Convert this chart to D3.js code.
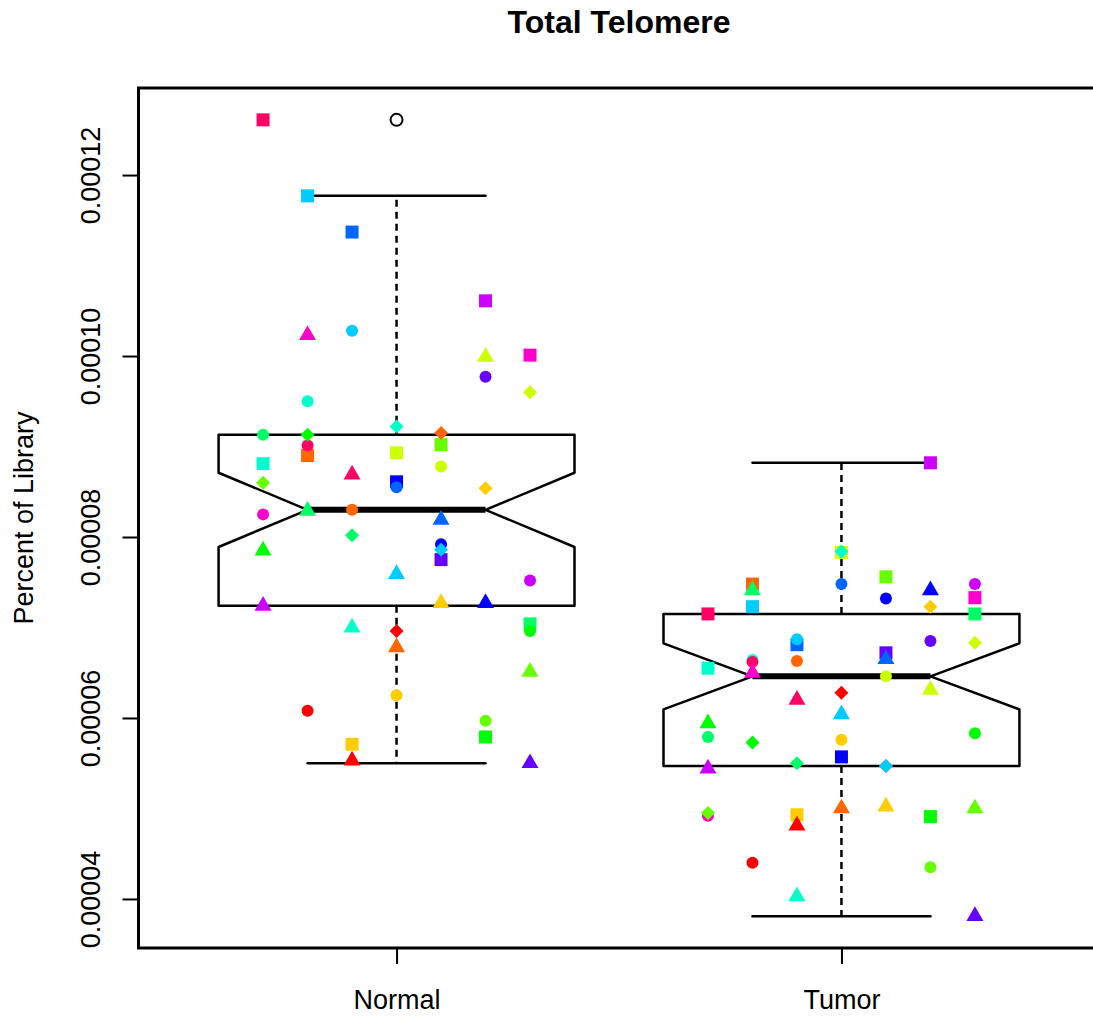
<!DOCTYPE html>
<html>
<head>
<meta charset="utf-8">
<script src="https://cdn.jsdelivr.net/npm/d3@7"></script>
<style>
  body { margin: 0; background: #fff; }
  svg { display: block; }
  text { font-family: "Liberation Sans", Arial, Helvetica, sans-serif; fill: #000; }
</style>
</head>
<body>
<svg id="chart" width="1093" height="1016"></svg>
<script>
// Group names on the x axis
const groups = ["Normal", "Tumor"];

// Percent of library per sample (sample 1..53), paired normal / tumor
const normalValues = [
  8.90e-5, 5.71e-5, 8.93e-5, 9.02e-5, 5.79e-5, 7.04e-5, 8.81e-5, 11.77e-5, 11.37e-5, 8.61e-5,
  7.75e-5, 10.61e-5, 10.01e-5, 12.61e-5, 6.08e-5, 8.30e-5, 6.25e-5, 8.78e-5, 5.97e-5, 6.96e-5,
  9.13e-5, 9.50e-5, 10.28e-5, 8.55e-5, 7.92e-5, 9.77e-5, 7.52e-5, 8.25e-5, 9.01e-5, 5.53e-5,
  6.78e-5, 7.27e-5, 9.99e-5, 6.51e-5, 7.85e-5, 8.29e-5, 7.00e-5, 7.59e-5, 8.19e-5, 7.27e-5,
  5.50e-5, 7.24e-5, 10.23e-5, 8.69e-5, 6.96e-5, 9.15e-5, 8.54e-5, 9.60e-5, 8.60e-5, 9.13e-5,
  8.02e-5, 9.22e-5, 7.86e-5
];
const tumorValues = [
  7.48e-5, 4.93e-5, 7.83e-5, 7.56e-5, 4.91e-5, 7.15e-5, 6.55e-5, 7.23e-5, 6.81e-5, 5.57e-5,
  6.72e-5, 8.82e-5, 7.33e-5, 7.15e-5, 4.40e-5, 6.63e-5, 5.76e-5, 6.46e-5, 4.35e-5, 5.83e-5,
  5.79e-5, 6.64e-5, 6.87e-5, 7.48e-5, 7.32e-5, 6.85e-5, 7.48e-5, 4.92e-5, 6.62e-5, 4.81e-5,
  5.00e-5, 5.02e-5, 6.31e-5, 5.00e-5, 5.94e-5, 7.41e-5, 4.03e-5, 6.04e-5, 6.65e-5, 7.41e-5,
  3.81e-5, 5.44e-5, 6.50e-5, 6.20e-5, 6.28e-5, 5.47e-5, 7.23e-5, 6.83e-5, 4.95e-5, 5.73e-5,
  5.50e-5, 7.84e-5, 5.47e-5
];

// Y axis tick values
const yTicks = [4e-5, 6e-5, 8e-5, 10e-5, 12e-5];

// rainbow(15) palette, cycled over samples
const palette = [
  "#FF0000", "#FF6600", "#FFCC00", "#CCFF00", "#66FF00", "#00FF00", "#00FF66", "#00FFCC",
  "#00CCFF", "#0066FF", "#0000FF", "#6600FF", "#CC00FF", "#FF00CC", "#FF0066"
];
const shapeOrder = ["square", "circle", "triangle", "diamond"];

const svg = d3.select("#chart");
const plot = { left: 138.5, right: 1099.5, top: 88, bottom: 948 };

// Tukey five-number summary based box statistics with notch
function boxStats(values) {
  const s = values.slice().sort(d3.ascending);
  const n = s.length;
  const n4 = Math.floor((n + 3) / 2) / 2;
  const d = [1, n4, (n + 1) / 2, n + 1 - n4, n];
  const f = d.map(k => 0.5 * (s[Math.floor(k) - 1] + s[Math.ceil(k) - 1]));
  const iqr = f[3] - f[1];
  const lo = f[1] - 1.5 * iqr, hi = f[3] + 1.5 * iqr;
  const inside = s.filter(v => v >= lo && v <= hi);
  return {
    q1: f[1], med: f[2], q3: f[3],
    wlo: d3.min(inside), whi: d3.max(inside),
    out: s.filter(v => v < lo || v > hi),
    notch: 1.58 * iqr / Math.sqrt(n)
  };
}

const series = [normalValues, tumorValues];
const stats = series.map(boxStats);

const all = normalValues.concat(tumorValues);
const [ymin, ymax] = d3.extent(all);
const pad = (ymax - ymin) * 0.04;

const x = d3.scaleLinear().domain([0.42, groups.length + 0.58]).range([plot.left, plot.right]);
const y = d3.scaleLinear().domain([ymin - pad, ymax + pad]).range([plot.bottom, plot.top]);

// Title
svg.append("text")
  .attr("x", x((1 + groups.length) / 2)).attr("y", 33)
  .attr("text-anchor", "middle")
  .style("font-size", "32px").style("font-weight", "bold")
  .text("Total Telomere");

// Y axis
const yAxis = svg.append("g")
  .attr("transform", `translate(${plot.left},0)`)
  .call(d3.axisLeft(y).tickValues(yTicks).tickSize(16).tickFormat(d3.format(".5f")));
yAxis.select(".domain").remove();
yAxis.selectAll(".tick line").attr("stroke", "#000").attr("stroke-width", 2);
yAxis.selectAll(".tick text")
  .attr("x", null).attr("dy", null)
  .attr("transform", "translate(-39,0) rotate(-90)")
  .attr("text-anchor", "middle")
  .style("font-size", "27px").style("font-family", '"Liberation Sans", Arial, sans-serif');

svg.append("text")
  .attr("transform", `translate(33,${(plot.top + plot.bottom) / 2}) rotate(-90)`)
  .attr("text-anchor", "middle")
  .style("font-size", "27px")
  .text("Percent of Library");

// X axis
const xAxis = svg.append("g")
  .attr("transform", `translate(0,${plot.bottom})`)
  .call(d3.axisBottom(x).tickValues(d3.range(1, groups.length + 1)).tickSize(16)
    .tickFormat(d => groups[d - 1]));
xAxis.select(".domain").remove();
xAxis.selectAll(".tick line").attr("stroke", "#000").attr("stroke-width", 2);
xAxis.selectAll(".tick text")
  .attr("y", 61).attr("dy", null)
  .style("font-size", "27px").style("font-family", '"Liberation Sans", Arial, sans-serif');

// Notched boxes with whiskers and outliers
const boxHalf = 0.4;
stats.forEach((s, gi) => {
  const c = gi + 1;
  const g = svg.append("g");
  const L = x(c - boxHalf), R = x(c + boxHalf), iL = x(c - boxHalf / 2), iR = x(c + boxHalf / 2);
  const poly = [
    [L, y(s.q1)], [L, y(s.med - s.notch)], [iL, y(s.med)], [L, y(s.med + s.notch)], [L, y(s.q3)],
    [R, y(s.q3)], [R, y(s.med + s.notch)], [iR, y(s.med)], [R, y(s.med - s.notch)], [R, y(s.q1)]
  ];
  g.append("path").attr("d", "M" + poly.join("L") + "Z")
    .attr("fill", "none").attr("stroke", "#000").attr("stroke-width", 2.5)
    .attr("stroke-linejoin", "round");
  [[s.q3, s.whi], [s.q1, s.wlo]].forEach(([a, b]) => {
    g.append("line").attr("x1", x(c)).attr("x2", x(c)).attr("y1", y(a)).attr("y2", y(b))
      .attr("stroke", "#000").attr("stroke-width", 2.5).attr("stroke-dasharray", "7,5");
    g.append("line").attr("x1", iL).attr("x2", iR).attr("y1", y(b)).attr("y2", y(b))
      .attr("stroke", "#000").attr("stroke-width", 2.5).attr("stroke-linecap", "round");
  });
  g.append("line").attr("x1", iL).attr("x2", iR).attr("y1", y(s.med)).attr("y2", y(s.med))
    .attr("stroke", "#000").attr("stroke-width", 6);
  g.selectAll("circle.out").data(s.out).join("circle").attr("class", "out")
    .attr("cx", x(c)).attr("cy", d => y(d)).attr("r", 6)
    .attr("fill", "none").attr("stroke", "#000").attr("stroke-width", 2);
});

// Sample markers
function symbolPath(shape) {
  if (shape === "square") return "M-6.5,-6.5H6.5V6.5H-6.5Z";
  if (shape === "circle") return "M6,0A6,6 0 1,1 -6,0A6,6 0 1,1 6,0Z";
  if (shape === "triangle") return "M0,-9.8L8.5,4.9L-8.5,4.9Z";
  return "M0,-7L7,0L0,7L-7,0Z";
}

const pts = [];
series.forEach((vals, gi) => {
  vals.forEach((v, k) => {
    const id = k + 1;
    pts.push({
      group: gi + 1,
      value: v,
      lane: (id % 7) - 3,
      color: palette[id % 15],
      shape: shapeOrder[Math.floor(id / 15)]
    });
  });
});

svg.append("g").selectAll("path").data(pts).join("path")
  .attr("transform", d => `translate(${x(d.group + d.lane * 0.1)},${y(d.value)})`)
  .attr("d", d => symbolPath(d.shape))
  .attr("fill", d => d.color);

// Plot frame
svg.append("rect")
  .attr("x", plot.left).attr("y", plot.top)
  .attr("width", plot.right - plot.left).attr("height", plot.bottom - plot.top)
  .attr("fill", "none").attr("stroke", "#000").attr("stroke-width", 3);
</script>
</body>
</html>
